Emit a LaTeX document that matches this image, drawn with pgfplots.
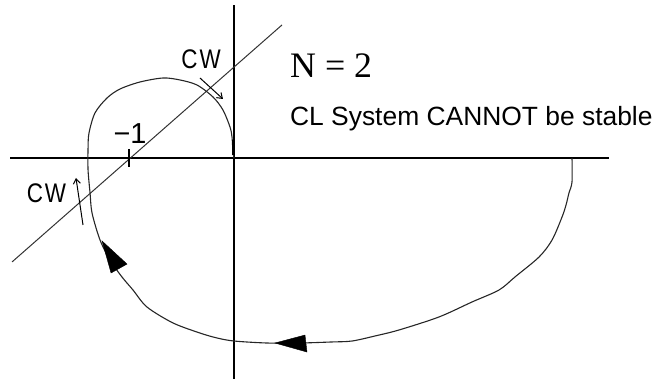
\documentclass[border=0pt]{standalone}
\usepackage{fontspec}
\setmainfont{Liberation Sans}
\newfontfamily\timesfont{Liberation Serif}
\usepackage{pgfplots}
\pgfplotsset{compat=1.18}
\usetikzlibrary{arrows.meta}

\begin{document}
\begin{tikzpicture}
\begin{axis}[
  x=105bp, y=105bp,
  xmin=-2.2286, xmax=4.0952,
  ymin=-2.1048, ymax=1.5048,
  hide axis,
  clip=false,
]
% keep the full frame as the picture's extent
\path (rel axis cs:0,0) rectangle (rel axis cs:1,1);

% real and imaginary axes
\addplot[black, line width=1.3bp] coordinates {(-2.133,0) (3.571,0)};
\addplot[black, line width=1.3bp] coordinates {(0,1.457) (0,-2.105)};

% line through the critical point
\addplot[black!80, line width=1bp] coordinates {(-2.114,-0.990) (0.457,1.267)};
% tick at -1
\addplot[black, line width=1.1bp] coordinates {(-1,0.086) (-1,-0.086)};

% Nyquist contour
\addplot[black!85, line width=1.1bp, smooth, tension=0.5] coordinates {
  (3.219,0) (3.219,-0.229) (3.190,-0.333) (3.162,-0.448) (3.124,-0.562)
  (3.029,-0.781) (2.905,-0.943) (2.676,-1.133) (2.524,-1.257) (2.267,-1.371)
  (1.952,-1.514) (1.571,-1.638) (1.343,-1.695) (1.124,-1.743) (0.933,-1.752)
  (0.629,-1.762) (0.314,-1.762) (0,-1.743) (-0.162,-1.714) (-0.324,-1.667)
  (-0.581,-1.571) (-0.829,-1.419) (-0.962,-1.257) (-1.067,-1.133) (-1.181,-0.971)
  (-1.276,-0.781) (-1.352,-0.524) (-1.371,-0.333) (-1.390,-0.114) (-1.390,0.095)
  (-1.381,0.238) (-1.324,0.429) (-1.210,0.571) (-1.086,0.657) (-0.895,0.724)
  (-0.676,0.762) (-0.514,0.743) (-0.352,0.695) (-0.200,0.581) (-0.105,0.457)
  (-0.038,0.295) (-0.019,0.200) (-0.010,0.057) (0,0)
};
% thicker end at the origin
\addplot[black, line width=2bp] coordinates {(-0.010,0.171) (-0.010,0.030)};

% direction arrowheads on the contour
\addplot[black, fill=black] coordinates {(0.390,-1.762) (0.676,-1.686) (0.695,-1.848)} -- cycle;
\addplot[black, fill=black] coordinates {(-1.257,-0.790) (-1.019,-1.010) (-1.171,-1.095)} -- cycle;

% clockwise encirclement markers
\addplot[black, line width=1bp, -{Straight Barb[length=5bp,width=7bp]}]
  coordinates {(-0.324,0.762) (-0.105,0.562)};
\addplot[black, line width=1bp, -{Straight Barb[length=5bp,width=7bp]}]
  coordinates {(-1.438,-0.638) (-1.505,-0.190)};

% labels
\node[yscale=1.2, font=\fontsize{22.5}{24}\selectfont] at (axis cs:-0.314,0.938) {C\kern2bp W};
\node[yscale=1.2, font=\fontsize{22.5}{24}\selectfont] at (axis cs:-1.786,-0.338) {C\kern2bp W};
\node[font=\fontsize{29}{31}\selectfont] at (axis cs:-0.990,0.229) {−1};
\node[anchor=base west, inner sep=0pt, font=\timesfont\fontsize{36}{39}\selectfont]
  at (axis cs:0.533,0.771) {N = 2};
\node[anchor=base west, inner sep=0pt, font=\fontsize{26.5}{28}\selectfont]
  at (axis cs:0.533,0.314) {CL System CANNOT be stable};
\end{axis}
\end{tikzpicture}
\end{document}
